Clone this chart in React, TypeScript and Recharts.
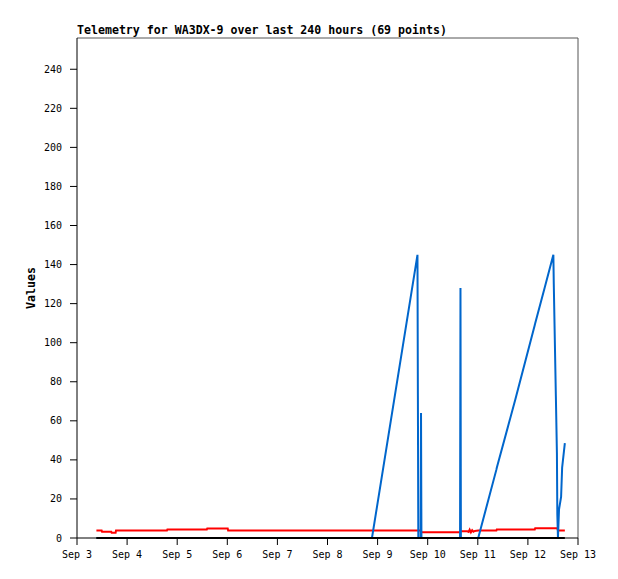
import React from 'react';
import { LineChart, Line, XAxis, YAxis, ReferenceLine } from 'recharts';

// hours since Sep 3 00:00
const hours = [
  9.3, 11.8, 12.0, 16.4, 16.6, 18.5, 18.7, 21.5, 26.0, 30.2, 34.5, 38.0, 43.1, 43.3, 47.0,
  50.8, 56.2, 59.0, 62.2, 62.4, 67.5, 72.2, 72.4, 78.0, 84.0, 90.5, 97.5, 104.0, 110.0, 117.0,
  124.6, 131.0, 141.3, 163.1, 163.3, 163.5, 164.6, 164.8, 165.0, 172.0, 178.5, 183.5, 183.7, 183.9,
  187.0, 187.6, 188.1, 188.7, 189.3, 189.9, 190.6, 192.2, 200.9, 201.1, 210.0, 219.3, 219.5, 224.0,
  228.2, 228.4, 228.9, 229.4, 229.9, 230.1, 230.4, 230.9, 231.9, 232.4, 233.7,
];
const redValues = [
  3.9, 3.9, 3.2, 3.2, 2.7, 2.7, 3.9, 3.9, 3.9, 3.9, 3.9, 3.9, 3.9, 4.4, 4.4,
  4.4, 4.4, 4.4, 4.4, 4.9, 4.9, 4.9, 3.9, 3.9, 3.9, 3.9, 3.9, 3.9, 3.9, 3.9,
  3.9, 3.9, 3.9, 3.9, 3.9, 3.9, 3.9, 2.9, 2.9, 2.9, 2.9, 2.9, 3.4, 3.4,
  3.4, 3.1, 4.3, 2.9, 4.0, 3.2, 3.6, 3.8, 3.8, 4.4, 4.4, 4.4, 5.0, 5.0,
  5.0, 5.0, 5.0, 5.0, 5.0, 5.0, 3.9, 3.9, 3.9, 3.9, 3.9,
];
const blueValues = [
  0, 0, 0, 0, 0, 0, 0, 0, 0, 0, 0, 0, 0, 0, 0,
  0, 0, 0, 0, 0, 0, 0, 0, 0, 0, 0, 0, 0, 0, 0,
  0, 0, 0, 145, 73, 0, 0, 64, 0, 0, 0, 0, 128, 0,
  0, 0, 0, 0, 0, 0, 0, 0, 35, 36, 71, 109, 110, 128,
  145, 130, 101, 72.5, 43.5, 12, 0, 14.5, 21, 36, 48.6,
];
const blackValues = hours.map(() => 0);

const tickHours = [0, 24, 48, 72, 96, 120, 144, 168, 192, 216, 240];
const tickLabels = ['Sep 3', 'Sep 4', 'Sep 5', 'Sep 6', 'Sep 7', 'Sep 8', 'Sep 9', 'Sep 10', 'Sep 11', 'Sep 12', 'Sep 13'];
const yTicks = [0, 20, 40, 60, 80, 100, 120, 140, 160, 180, 200, 220, 240];
const yMax = 256;

const data = hours.map((h, i) => ({
  h,
  red: redValues[i],
  blue: blueValues[i],
  black: blackValues[i],
}));

const mono = '"DejaVu Sans Mono", monospace';
const tickStyle = { fill: '#000', fontSize: 10, fontFamily: mono };

const App: React.FC = () => {
  return (
    <div style={{ position: 'absolute', left: 0, top: 0, width: 618, height: 579, background: '#fff' }}>
      <div
        style={{
          position: 'absolute',
          left: 77,
          top: 24,
          fontFamily: mono,
          fontWeight: 'bold',
          fontSize: 11.6,
          lineHeight: '12px',
          color: '#000',
          whiteSpace: 'nowrap',
        }}
      >
        Telemetry for WA3DX-9 over last 240 hours (69 points)
      </div>
      <LineChart width={618} height={579} data={data} margin={{ top: 38, right: 40, bottom: 0, left: 0 }}>
        <XAxis
          dataKey="h"
          type="number"
          domain={[0, 240]}
          ticks={tickHours}
          tickFormatter={(v: number) => tickLabels[tickHours.indexOf(v)]}
          height={41}
          tickSize={7}
          tickMargin={6}
          stroke="#000"
          tick={tickStyle}
          interval={0}
        />
        <YAxis
          type="number"
          domain={[0, yMax]}
          ticks={yTicks}
          width={77}
          tickSize={7}
          tickMargin={8}
          stroke="#000"
          tick={tickStyle}
          interval={0}
          label={{
            value: 'Values',
            angle: -90,
            position: 'insideLeft',
            offset: 31,
            style: { textAnchor: 'middle', fontFamily: mono, fontWeight: 'bold', fontSize: 11.6, fill: '#000' },
          }}
        />
        <ReferenceLine y={yMax} stroke="#555" />
        <ReferenceLine x={240} stroke="#555" />
        <Line type="linear" dataKey="red" stroke="#ff0000" strokeWidth={2} dot={false} isAnimationActive={false} />
        <Line type="linear" dataKey="blue" stroke="#0066cc" strokeWidth={2} dot={false} isAnimationActive={false} />
        <Line type="linear" dataKey="black" stroke="#000000" strokeWidth={2} dot={false} isAnimationActive={false} />
      </LineChart>
    </div>
  );
};

export default App;
